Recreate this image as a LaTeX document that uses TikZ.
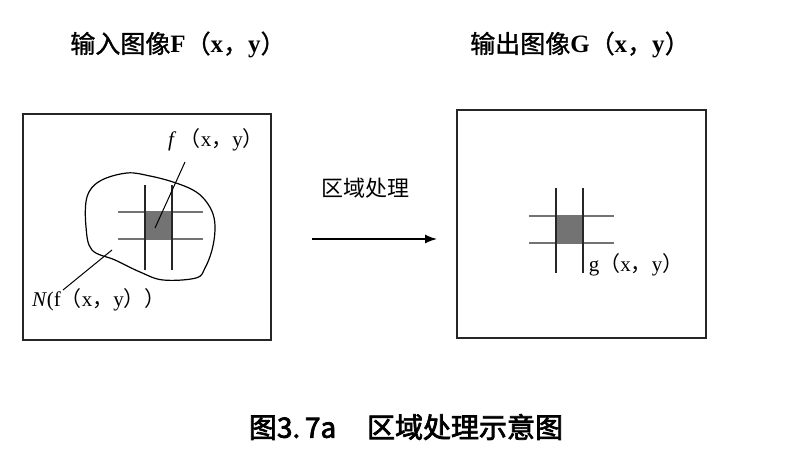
\documentclass[tikz,border=0pt]{standalone}
\usepackage{fontspec}
\setmainfont{Liberation Serif}
\newfontfamily\cjk{Noto Sans CJK SC}
\newfontfamily\cjkb[FakeBold=1.2]{Noto Sans CJK SC}
\newfontfamily\cjkc[FakeBold=2.6]{Noto Sans CJK SC}
\usetikzlibrary{arrows.meta}
\tikzset{
  frame/.style={draw=black!85,line width=0.8pt},
  gridh/.style={draw=black!55,line width=0.6pt},
  gridv/.style={draw=black!85,line width=0.6pt},
  cell/.style={fill=black!55,draw=black!80,line width=0.5pt},
  leader/.style={draw=black,line width=0.5pt},
  lbl/.style={inner sep=0pt,font=\fontsize{10.5}{12}\selectfont},
  ttl/.style={inner sep=0pt,font=\fontsize{12.5}{15}\selectfont},
}
\begin{document}
\begin{tikzpicture}[x=0.5pt,y=-0.5pt]
\useasboundingbox (0,0) rectangle (785,453);
% titles
\node[ttl] (t1) at (178,45) {{\cjkb 输入图像}\textbf{F}{\cjkb （}\textbf{x}{\cjkb ，}\textbf{y}{\cjkb ）}};
\node[ttl] (t2) at (580,45) {{\cjkb 输出图像}\textbf{G}{\cjkb （}\textbf{x}{\cjkb ，}\textbf{y}{\cjkb ）}};
% frames
\draw[frame] (23,114) rectangle (271,340);
\draw[frame] (457,110) rectangle (706,338);
% blob
\draw[line width=0.6pt] plot[smooth cycle,tension=0.6] coordinates {
 (87,197) (100,181) (127,173) (150,176) (173,182) (193,190) (205,200) (213,214) (215,230) (212,250) (205,268) (196,278) (163,280) (140,272) (115,260) (92,250) (86,227)};
% left grid
\draw[cell] (145,212) rectangle (172,239);
\draw[gridh] (118,212) -- (203,212);
\draw[gridh] (118,239) -- (203,239);
\draw[gridv] (145,185) -- (145,270);
\draw[gridv] (172,185) -- (172,270);
% right grid
\draw[cell,draw=black!90] (556,216) rectangle (583,243);
\draw[gridh] (529,216) -- (614,216);
\draw[gridh] (529,243) -- (614,243);
\draw[gridv] (556,188) -- (556,273);
\draw[gridv] (583,188) -- (583,273);
% labels
\node[lbl] (fl) at (216,140) {\textit{f}\,{\cjk （}x{\cjk ，}y{\cjk ）}};
\node[lbl] (nl) at (99,300) {\textit{N}(f{\cjk （}x{\cjk ，}y{\cjk ）}{\cjk ）}};
\node[lbl] (gl) at (636,265) {g{\cjk （}x{\cjk ，}y{\cjk ）}};
\coordinate (fend) at (155,228);
\coordinate (fstart) at (185,162);
\coordinate (nend) at (112,250);
\coordinate (nstart) at (63,290);
\draw[leader] (fstart) -- (fend);
\draw[leader] (nstart) -- (nend);
% arrow
\node[inner sep=0pt,font=\fontsize{11}{13}\selectfont\cjk] (proc) at (365,188) {区域处理};
\coordinate (a1) at (312,239);
\coordinate (a2) at (437,239);
\draw[line width=0.7pt,-{Latex[length=6pt,width=4.5pt]}] (a1) -- (a2);
% caption
\node[inner sep=0pt,font=\fontsize{14}{16}\selectfont\cjkc] (cap) at (406,427) {图3.\,7a\hspace{1.1em}区域处理示意图};
\end{tikzpicture}
\end{document}
